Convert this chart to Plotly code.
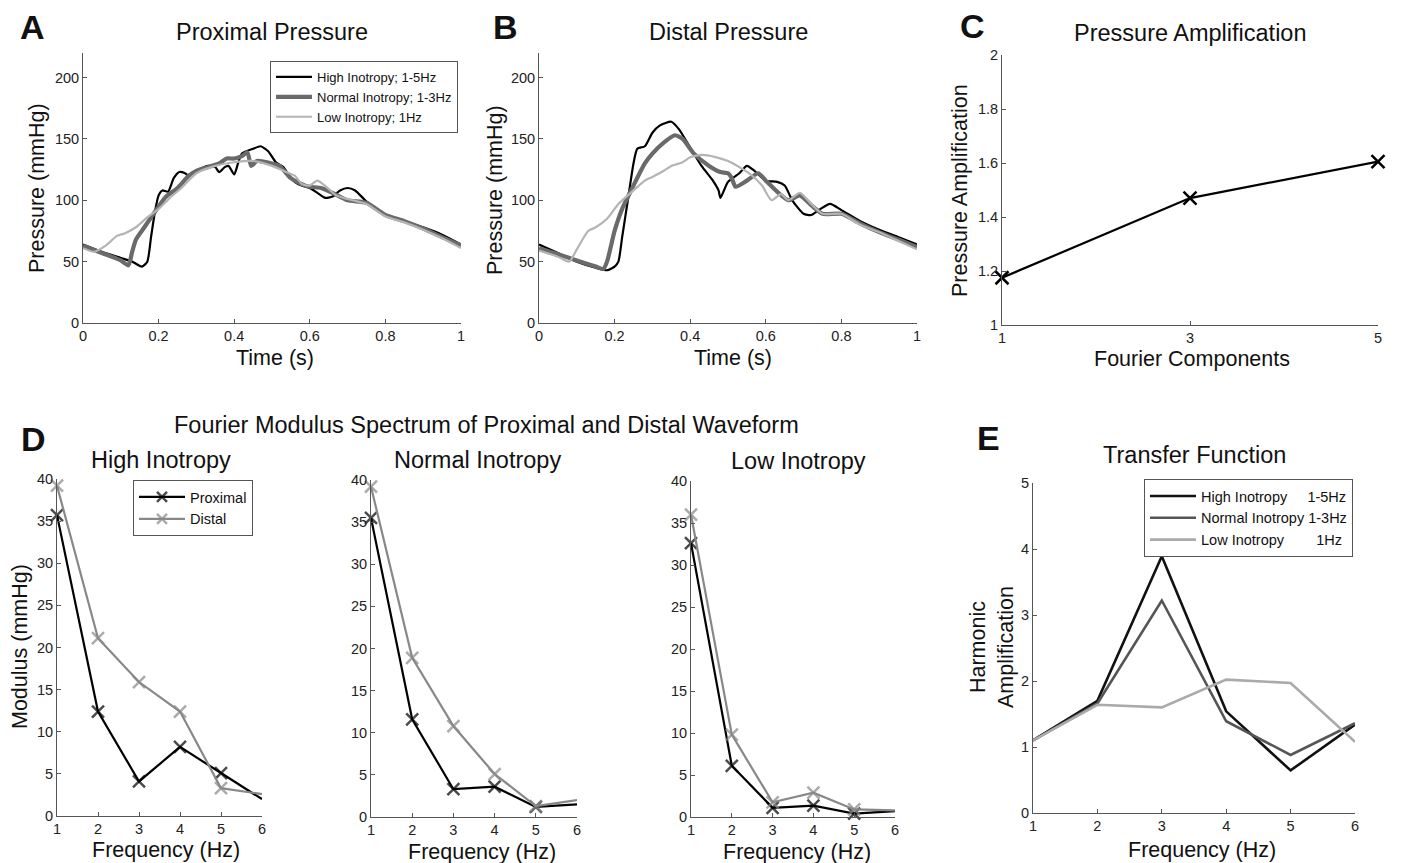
"""Pressure waveforms, amplification and Fourier spectra (panels A-E)."""

import plotly.graph_objects as go

# ---- panel A: proximal pressure waveforms (time in s, pressure in mmHg)
a_high_t = [0, 0.05, 0.1, 0.13, 0.156, 0.17, 0.18, 0.19, 0.2, 0.21, 0.225, 0.24, 0.255, 0.27, 0.28,
            0.3, 0.33, 0.35, 0.36, 0.375, 0.385, 0.4, 0.41, 0.42, 0.45, 0.47, 0.49, 0.51, 0.53,
            0.55, 0.57, 0.6, 0.62, 0.64, 0.66, 0.68, 0.7, 0.72, 0.75, 0.8, 0.85, 0.9, 0.95, 1.0]
a_high_p = [64, 58, 53, 50, 46, 50, 70, 90, 104, 108, 107, 118, 123, 122, 120,
            124, 128, 127, 123, 127, 128, 121, 130, 138, 142, 144, 140, 131, 127,
            118, 113, 110, 106, 102, 103, 108, 110, 108, 99, 88, 83, 78, 72, 64]
a_norm_t = [0, 0.05, 0.1, 0.12, 0.13, 0.14, 0.16, 0.18, 0.2, 0.22, 0.25, 0.28, 0.3, 0.33, 0.36,
            0.38, 0.4, 0.42, 0.435, 0.445, 0.46, 0.5, 0.52, 0.55, 0.58, 0.6, 0.63, 0.66, 0.7,
            0.75, 0.8, 0.85, 0.9, 0.95, 1.0]
a_norm_p = [63, 57, 51, 47, 58, 68, 77, 86, 95, 103, 110, 120, 124, 127, 130,
            134, 134, 136, 139, 128, 132, 130, 128, 118, 113, 111, 110, 106, 100,
            98, 88, 83, 77, 70, 63]
a_low_t = [0, 0.03, 0.06, 0.09, 0.11, 0.14, 0.17, 0.2, 0.23, 0.26, 0.3, 0.35, 0.4, 0.45, 0.5,
           0.53, 0.56, 0.58, 0.6, 0.62, 0.64, 0.67, 0.7, 0.75, 0.8, 0.85, 0.9, 0.95, 1.0]
a_low_p = [61, 58, 63, 71, 73, 78, 86, 93, 102, 110, 122, 128, 131, 132, 128,
           124, 120, 113, 112, 116, 112, 104, 101, 97, 87, 82, 76, 69, 61]

# ---- panel B: distal pressure waveforms
b_high_t = [0, 0.05, 0.1, 0.15, 0.18, 0.2, 0.21, 0.22, 0.235, 0.25, 0.26, 0.28, 0.3, 0.32, 0.35,
            0.37, 0.4, 0.43, 0.46, 0.475, 0.48, 0.5, 0.53, 0.55, 0.57, 0.6, 0.63, 0.65, 0.67,
            0.7, 0.72, 0.74, 0.77, 0.8, 0.85, 0.9, 0.95, 1.0]
b_high_p = [64, 57, 50, 45, 43, 46, 50, 70, 100, 130, 142, 144, 155, 161, 164,
            158, 143, 128, 116, 108, 102, 115, 122, 128, 124, 116, 115, 112, 100,
            89, 88, 92, 97, 92, 83, 76, 70, 64]
b_norm_t = [0, 0.05, 0.1, 0.15, 0.17, 0.18, 0.2, 0.22, 0.25, 0.28, 0.3, 0.33, 0.36, 0.38, 0.41,
            0.45, 0.48, 0.5, 0.51, 0.52, 0.55, 0.58, 0.6, 0.63, 0.66, 0.69, 0.72, 0.75, 0.8,
            0.85, 0.9, 0.95, 1.0]
b_norm_p = [61, 56, 51, 46, 44, 50, 75, 93, 112, 130, 138, 147, 153, 150, 138,
            128, 123, 122, 118, 111, 116, 122, 116, 107, 100, 104, 96, 89, 89,
            81, 74, 68, 62]
b_low_t = [0, 0.05, 0.08, 0.1, 0.13, 0.15, 0.18, 0.21, 0.25, 0.28, 0.3, 0.33, 0.35, 0.38, 0.4,
           0.43, 0.47, 0.5, 0.53, 0.56, 0.59, 0.615, 0.64, 0.66, 0.69, 0.72, 0.75, 0.8, 0.85,
           0.9, 0.95, 1.0]
b_low_p = [59, 54, 50, 60, 75, 78, 85, 97, 108, 116, 119, 124, 128, 131, 135,
           137, 135, 132, 127, 121, 112, 100, 105, 100, 106, 97, 89, 89, 80,
           74, 67, 60]

# ---- panel C: pressure amplification
c_components = [1, 3, 5]
c_amplification = [1.175, 1.47, 1.605]

# ---- panel D: Fourier modulus (mmHg)
freq = [1, 2, 3, 4, 5, 6]
d_high_prox = [35.7, 12.4, 4.1, 8.2, 5.1, 2.0]
d_high_dist = [39.2, 21.1, 15.9, 12.4, 3.3, 2.6]
d_norm_prox = [35.5, 11.6, 3.3, 3.6, 1.2, 1.5]
d_norm_dist = [39.2, 18.9, 10.8, 5.1, 1.3, 2.0]
d_low_prox = [32.6, 6.1, 1.1, 1.35, 0.4, 0.7]
d_low_dist = [36.0, 9.8, 1.75, 2.9, 0.9, 0.8]

# ---- panel E: transfer function
e_high = [1.10, 1.70, 3.89, 1.54, 0.645, 1.34]
e_norm = [1.10, 1.66, 3.22, 1.39, 0.88, 1.36]
e_low = [1.10, 1.64, 1.60, 2.02, 1.97, 1.08]

# the page body has an 8px margin, so the figure is shrunk and every
# position below (taken from the 1402x863 reference) is shifted by it
OFF = 8
W, H = 1402 - OFF, 863 - OFF
FONT = "Liberation Sans, Arial, sans-serif"
BLACK, LIGHT = "#000000", "#b4b4b4"


def px(x0, x1):
    return [(x0 - OFF) / W, (x1 - OFF) / W]


def py(top, bottom):
    return [1 - (bottom - OFF) / H, 1 - (top - OFF) / H]


fig = go.Figure()

# panels A and B
wave_sets = [
    ("x", "y", [(a_high_t, a_high_p), (a_norm_t, a_norm_p), (a_low_t, a_low_p)], True),
    ("x2", "y2", [(b_high_t, b_high_p), (b_norm_t, b_norm_p), (b_low_t, b_low_p)], False),
]
wave_names = ["High Inotropy; 1-5Hz", "Normal Inotropy; 1-3Hz", "Low Inotropy; 1Hz"]
wave_style = [(BLACK, 2.2), ("#6a6a6a", 4.2), (LIGHT, 2.2)]
for xa, ya, series, show in wave_sets:
    for (t, p), name, (col, w) in zip(series, wave_names, wave_style):
        fig.add_trace(go.Scatter(
            x=t, y=p, xaxis=xa, yaxis=ya, mode="lines", name=name,
            line=dict(color=col, width=w, shape="spline", smoothing=0.6),
            showlegend=show, legend="legend",
        ))

# panel C
fig.add_trace(go.Scatter(
    x=c_components, y=c_amplification, xaxis="x3", yaxis="y3", mode="lines+markers",
    line=dict(color=BLACK, width=2.2), cliponaxis=False, showlegend=False,
    marker=dict(symbol="x-thin", size=13, line=dict(width=2.5, color=BLACK)),
))

# panel D
msize = [12, 12, 12, 12, 12, 0]
d_sets = [("x4", "y4", d_high_prox, d_high_dist, True),
          ("x5", "y5", d_norm_prox, d_norm_dist, False),
          ("x6", "y6", d_low_prox, d_low_dist, False)]
for xa, ya, prox, dist, show in d_sets:
    for vals, name, col in [(prox, "Proximal", BLACK), (dist, "Distal", "#888888")]:
        fig.add_trace(go.Scatter(
            x=freq, y=vals, xaxis=xa, yaxis=ya, mode="lines+markers", name=name,
            line=dict(color=col, width=2.2), cliponaxis=False,
            marker=dict(symbol="x-thin", size=msize, line=dict(width=2.5, color=col)),
            showlegend=show, legend="legend2",
        ))

# panel E
e_names = ["High Inotropy\u00a0\u00a0\u00a0\u00a0\u00a01-5Hz",
           "Normal Inotropy\u00a01-3Hz",
           "Low Inotropy\u00a0\u00a0\u00a0\u00a0\u00a0\u00a0\u00a0\u00a01Hz"]
for vals, name, col in zip([e_high, e_norm, e_low], e_names, ["#111111", "#555555", "#aaaaaa"]):
    fig.add_trace(go.Scatter(
        x=freq, y=vals, xaxis="x7", yaxis="y7", mode="lines", name=name,
        line=dict(color=col, width=2.6), showlegend=True, legend="legend3",
    ))

axis_common = dict(
    showgrid=False, zeroline=False, showline=True, linecolor="#555555", linewidth=1,
    ticks="inside", ticklen=4, tickcolor="#555555", mirror=False,
    tickfont=dict(family=FONT, size=14.5, color="#222222"), automargin=False, fixedrange=True,
)


def num_labels(vals):
    return [("%g" % v) for v in vals]


t_ticks = [0, 0.2, 0.4, 0.6, 0.8, 1]
p_ticks = [0, 50, 100, 150, 200]
c_yticks = [1, 1.2, 1.4, 1.6, 1.8, 2]
d_yticks = [0, 5, 10, 15, 20, 25, 30, 35, 40]
e_yticks = [0, 1, 2, 3, 4, 5]

panels = [
    # (index, xdomain, ydomain, xrange, xticks, yrange, yticks)
    ("", px(83, 461), py(53, 323), [0, 1], t_ticks, [0, 220], p_ticks),
    ("2", px(539, 917), py(53, 323), [0, 1], t_ticks, [0, 220], p_ticks),
    ("3", px(1002, 1378), py(55, 325), [1, 5], c_components, [1, 2], c_yticks),
    ("4", px(57, 262), py(479, 816), [1, 6], freq, [0, 40], d_yticks),
    ("5", px(371, 577), py(480, 817), [1, 6], freq, [0, 40], d_yticks),
    ("6", px(691, 895), py(481, 817), [1, 6], freq, [0, 40], d_yticks),
    ("7", px(1033, 1355), py(483, 813), [1, 6], freq, [0, 5], e_yticks),
]
layout_axes = {}
for idx, xd, yd, xr, xt, yr, yt in panels:
    layout_axes["xaxis" + idx] = dict(
        axis_common, domain=xd, range=xr, anchor="y" + idx,
        tickmode="array", tickvals=xt, ticktext=num_labels(xt),
    )
    layout_axes["yaxis" + idx] = dict(
        axis_common, domain=yd, range=yr, anchor="x" + idx,
        tickmode="array", tickvals=yt, ticktext=num_labels(yt),
    )
fig.update_layout(**layout_axes)


def note(text, x, y, size, angle=0, bold=False):
    fig.add_annotation(
        text="<b>%s</b>" % text if bold else text,
        x=(x - OFF) / W, y=1 - (y - OFF) / H,
        xref="paper", yref="paper", showarrow=False, textangle=angle,
        xanchor="center", yanchor="middle",
        font=dict(family=FONT, size=size, color="#111111"),
    )


# panel letters
for letter, x, y in [("A", 32, 27), ("B", 505, 27), ("C", 972, 26), ("D", 33, 439), ("E", 988, 438)]:
    note(letter, x, y, 34, bold=True)

# titles
note("Proximal Pressure", 272, 32, 23.5)
note("Distal Pressure", 728, 32, 23.5)
note("Pressure Amplification", 1190, 33, 23.5)
note("Fourier Modulus Spectrum of Proximal and Distal Waveform", 486, 425, 23.5)
note("High Inotropy", 161, 460, 23.5)
note("Normal Inotropy", 477, 460, 23.5)
note("Low Inotropy", 798, 461, 23.5)
note("Transfer Function", 1194, 455, 23.5)

# axis titles
note("Time (s)", 275, 358, 21.5)
note("Time (s)", 733, 358, 21.5)
note("Fourier Components", 1192, 359, 21.5)
note("Pressure (mmHg)", 37, 188, 21.5, angle=-90)
note("Pressure (mmHg)", 495, 190, 21.5, angle=-90)
note("Pressure Amplification", 960, 191, 21.5, angle=-90)
note("Modulus (mmHg)", 20, 647, 21.5, angle=-90)
note("Harmonic<br>Amplification", 992, 647, 21.5, angle=-90)
for x, y in [(166, 850), (482, 852), (797, 852), (1202, 850)]:
    note("Frequency (Hz)", x, y, 21.5)

legend_box = dict(bgcolor="#ffffff", bordercolor="#555555", borderwidth=1,
                  xref="paper", yref="paper", itemclick=False, itemdoubleclick=False)
fig.update_layout(
    width=W, height=H, margin=dict(l=0, r=0, t=0, b=0),
    paper_bgcolor="#ffffff", plot_bgcolor="#ffffff",
    font=dict(family=FONT, color="#111111"),
    legend=dict(legend_box, x=(458 - OFF) / W, y=1 - (61 - OFF) / H, xanchor="right", yanchor="top",
                font=dict(family=FONT, size=13), tracegroupgap=0, itemwidth=36),
    legend2=dict(legend_box, x=(133 - OFF) / W, y=1 - (480 - OFF) / H, xanchor="left", yanchor="top",
                 font=dict(family=FONT, size=14.5), itemwidth=46),
    legend3=dict(legend_box, x=(1144 - OFF) / W, y=1 - (479 - OFF) / H, xanchor="left", yanchor="top",
                 font=dict(family=FONT, size=14.5), itemwidth=46),
)

fig.write_html("out.html")
